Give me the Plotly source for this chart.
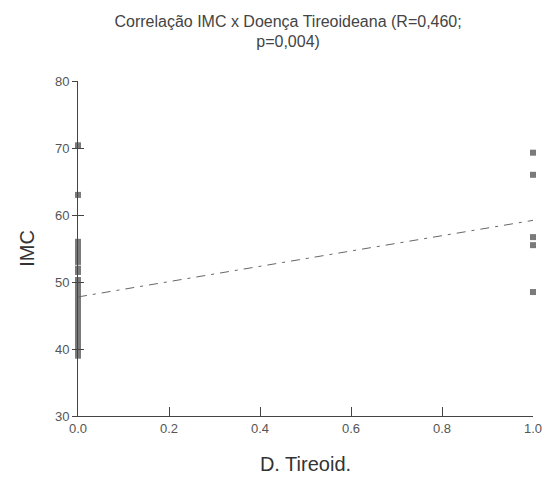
import numpy as np
import plotly.graph_objects as go

# Data
x0_vals = [70.4, 63.0, 56.0, 55.2, 54.5, 53.8, 53.0, 52.0, 51.5, 50.3, 49.8, 49.0,
           48.3, 47.5, 46.8, 46.0, 45.3, 44.6, 44.0, 43.3, 42.6, 42.0, 41.8, 41.4,
           41.0, 40.8, 40.5, 40.2, 39.5, 39.0]
x1_vals = [69.3, 66.0, 56.7, 55.5, 48.5]

xs = [0.0] * len(x0_vals) + [1.0] * len(x1_vals)
ys = x0_vals + x1_vals

x_ticks = [0.0, 0.2, 0.4, 0.6, 0.8, 1.0]
y_ticks = [30, 40, 50, 60, 70, 80]

slope, intercept = np.polyfit(xs, ys, 1)
line_x = [0.0, 1.0]
line_y = [intercept + slope * v for v in line_x]

font_fam = "Arial, Liberation Sans, sans-serif"

fig = go.Figure()
fig.add_trace(go.Scatter(
    x=xs, y=ys, mode="markers",
    marker=dict(symbol="square", size=6, color="#7a7a7a", line=dict(width=0)),
    cliponaxis=False, showlegend=False, hoverinfo="skip"))
fig.add_trace(go.Scatter(
    x=line_x, y=line_y, mode="lines",
    line=dict(color="#666666", width=1, dash="9px,6px,3px,6px"),
    cliponaxis=False, showlegend=False, hoverinfo="skip"))
# overlay axis for ticks crossing the y axis
fig.add_trace(go.Scatter(x=[0], y=[30], yaxis="y2", mode="markers",
                         marker=dict(opacity=0), showlegend=False, hoverinfo="skip"))

fig.update_layout(
    width=554, height=484,
    margin=dict(l=78, r=14, t=81, b=62),
    paper_bgcolor="white", plot_bgcolor="white",
    font=dict(family=font_fam, color="#444444"),
    title=dict(text="Correlação IMC x Doença Tireoideana (R=0,460;<br>p=0,004)",
               x=0.52, xanchor="center", y=0.945, yanchor="top",
               font=dict(size=16, color="#444444")),
    xaxis=dict(range=[0, 1], tickvals=x_ticks, ticktext=[f"{v:.1f}" for v in x_ticks],
               showgrid=False, zeroline=False, showline=True, linecolor="#444444",
               linewidth=1, ticks="inside", ticklen=9, tickcolor="#444444",
               tickfont=dict(size=13, color="#555555"),
               title=dict(text="D. Tireoid.", font=dict(size=20, color="#333333"), standoff=22)),
    yaxis=dict(range=[30, 80], tickvals=y_ticks, showgrid=False, zeroline=False,
               showline=True, linecolor="#444444", linewidth=1,
               ticks="outside", ticklen=5, tickcolor="#444444",
               tickfont=dict(size=13, color="#555555"),
               title=dict(text="IMC", font=dict(size=20, color="#333333"), standoff=14)),
    yaxis2=dict(range=[30, 80], overlaying="y", side="left", tickvals=y_ticks,
                showticklabels=False, showgrid=False, zeroline=False, showline=False,
                ticks="inside", ticklen=6, tickcolor="#444444"),
)

fig.write_html("out.html")
